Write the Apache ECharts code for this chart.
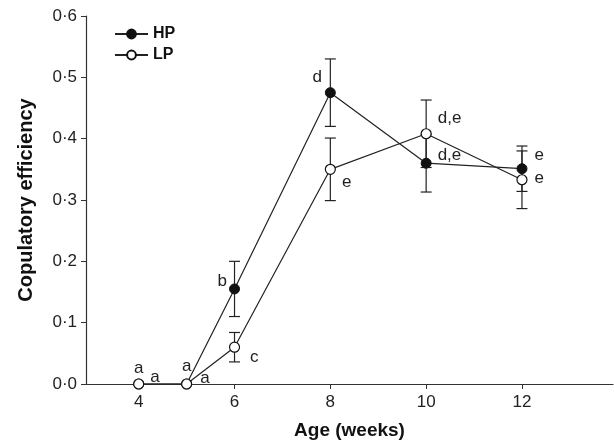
<!DOCTYPE html>
<html>
<head>
<meta charset="utf-8">
<script src="https://cdn.jsdelivr.net/npm/echarts@6/dist/echarts.min.js"></script>
<style>html,body{margin:0;padding:0;background:#fff}#c{width:614px;height:445px}</style>
</head>
<body>
<div id="c"></div>
<script>
var ages = [4, 5, 6, 8, 10, 12];
var xTicks = [4, 6, 8, 10, 12];
var hpValues = [0, 0, 0.155, 0.475, 0.36, 0.351];
var hpErrors = [0, 0, 0.045, 0.055, 0.047, 0.037];
var lpValues = [0, 0, 0.06, 0.35, 0.408, 0.333];
var lpErrors = [0, 0, 0.024, 0.051, 0.055, 0.047];
var hpLetters = ['a', 'a', 'b', 'd', 'd,e', 'e'];
var lpLetters = ['a', 'a', 'c', 'e', 'd,e', 'e'];

// label placement (style only)
var hpLabelPos = [
  {position: 'top', offset: [0, 3]},
  {position: 'top', offset: [0, 1]},
  {position: 'left', offset: [3, -8]},
  {position: 'left', offset: [2, -15]},
  {position: 'right', offset: [1, -8]},
  {position: 'right', offset: [2, -13]}
];
var lpLabelPos = [
  {position: 'right', offset: [1, -7]},
  {position: 'right', offset: [3, -6]},
  {position: 'right', offset: [5, 10]},
  {position: 'right', offset: [1, 13]},
  {position: 'right', offset: [1, -15]},
  {position: 'right', offset: [2, -1]}
];

var FONT = '"Liberation Sans", Arial, Helvetica, sans-serif';

function lineData(vals, letters, pos) {
  return ages.map(function (a, i) {
    return {
      value: [a, vals[i]],
      label: {
        show: true,
        formatter: letters[i],
        position: pos[i].position,
        offset: pos[i].offset,
        distance: 5,
        color: '#222',
        fontSize: 17,
        fontFamily: FONT
      }
    };
  });
}
function errData(vals, errs) {
  var out = [];
  ages.forEach(function (a, i) {
    if (errs[i] > 0) out.push([a, vals[i] - errs[i], vals[i] + errs[i]]);
  });
  return out;
}
function errRender(params, api) {
  var x = api.value(0);
  var lo = api.coord([x, api.value(1)]);
  var hi = api.coord([x, api.value(2)]);
  var w = 5.5;
  var st = {stroke: '#222', lineWidth: 1.2};
  return {
    type: 'group',
    children: [
      {type: 'line', shape: {x1: lo[0], y1: lo[1], x2: hi[0], y2: hi[1]}, style: st},
      {type: 'line', shape: {x1: lo[0] - w, y1: lo[1], x2: lo[0] + w, y2: lo[1]}, style: st},
      {type: 'line', shape: {x1: hi[0] - w, y1: hi[1], x2: hi[0] + w, y2: hi[1]}, style: st}
    ]
  };
}

var chart = echarts.init(document.getElementById('c'));
chart.setOption({
  animation: false,
  backgroundColor: '#fff',
  grid: {left: 86, right: 1, top: 16, bottom: 60},
  legend: {
    orient: 'vertical',
    left: 109,
    top: 21,
    itemWidth: 33,
    itemHeight: 11,
    itemGap: 5,
    data: ['HP', 'LP'],
    textStyle: {fontFamily: FONT, fontWeight: 'bold', fontSize: 16, color: '#111'}
  },
  xAxis: {
    type: 'value',
    min: 2.9,
    max: 13.9,
    name: 'Age (weeks)',
    nameLocation: 'middle',
    nameGap: 37,
    nameTextStyle: {fontFamily: FONT, fontWeight: 'bold', fontSize: 19, color: '#111'},
    splitLine: {show: false},
    axisLine: {lineStyle: {color: '#333', width: 1.2}},
    axisTick: {show: true, length: 5, customValues: xTicks, lineStyle: {color: '#333'}},
    axisLabel: {customValues: xTicks, fontFamily: FONT, fontSize: 17, color: '#222', margin: 10}
  },
  yAxis: {
    type: 'value',
    min: 0,
    max: 0.6,
    interval: 0.1,
    name: 'Copulatory efficiency',
    nameLocation: 'middle',
    nameGap: 50,
    nameTextStyle: {fontFamily: FONT, fontWeight: 'bold', fontSize: 20, color: '#111'},
    splitLine: {show: false},
    axisLine: {show: true, lineStyle: {color: '#333', width: 1.2}},
    axisTick: {show: true, length: 5, lineStyle: {color: '#333'}},
    axisLabel: {
      fontFamily: FONT, fontSize: 17, color: '#222', margin: 9,
      formatter: function (v) { return v.toFixed(1).replace('.', '\u00B7'); }
    }
  },
  series: [
    {
      type: 'custom', name: 'HPerr', renderItem: errRender,
      data: errData(hpValues, hpErrors), z: 1, silent: true
    },
    {
      type: 'custom', name: 'LPerr', renderItem: errRender,
      data: errData(lpValues, lpErrors), z: 1, silent: true
    },
    {
      type: 'line', name: 'HP',
      data: lineData(hpValues, hpLetters, hpLabelPos),
      symbol: 'circle', symbolSize: 10,
      lineStyle: {color: '#222', width: 1.2},
      itemStyle: {color: '#111', borderColor: '#111', borderWidth: 1},
      z: 2
    },
    {
      type: 'line', name: 'LP',
      data: lineData(lpValues, lpLetters, lpLabelPos),
      symbol: 'circle', symbolSize: 10,
      lineStyle: {color: '#222', width: 1.2},
      itemStyle: {color: '#fff', borderColor: '#111', borderWidth: 1.2},
      z: 3
    }
  ]
});
</script>
</body>
</html>
